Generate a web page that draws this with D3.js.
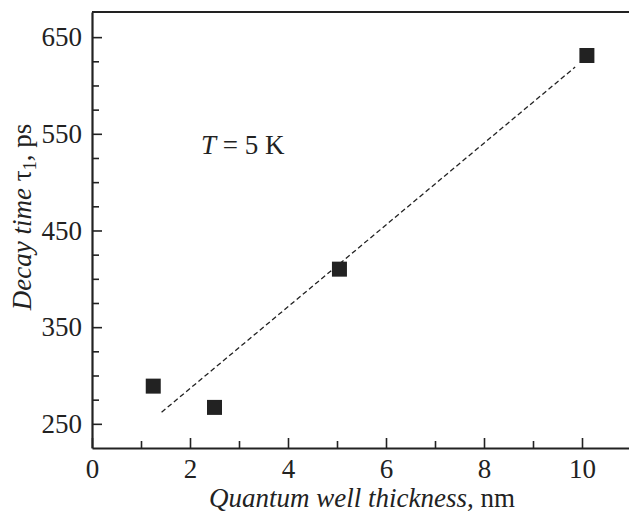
<!doctype html>
<html lang="en">
<head>
<meta charset="utf-8">
<script src="https://d3js.org/d3.v7.min.js"></script>
<style>
  body { margin: 0; background: #fff; }
  svg { font-family: "Liberation Serif", "Times New Roman", serif; }
  .axis path, .axis line { stroke: #222; }
  .axis text { font-size: 27px; fill: #222; font-family: "Liberation Serif", serif; }
</style>
</head>
<body>
<svg width="629" height="516"></svg>
<script>
// data
const thickness = [1.25, 2.5, 5.05, 10.1];     // nm
const decayTime = [289, 267, 410, 631];       // ps
const fitX = [1.42, 9.86];
const fitY = [262, 619];
const xMajor = [0, 2, 4, 6, 8, 10];
const xMinor = [1, 3, 5, 7, 9];
const yMajor = [250, 350, 450, 550, 650];
const yMinor = [275, 300, 325, 375, 400, 425, 475, 500, 525, 575, 600, 625];

const svg = d3.select('svg');
const plotL = 92, plotR = 631, plotT = 12, plotB = 448;

const x = d3.scaleLinear().domain([0, 11]).range([plotL, plotR]);
const y = d3.scaleLinear().domain([225, 676]).range([plotB, plotT]);

// minor ticks
svg.append('g').attr('class', 'axis')
  .attr('transform', `translate(0,${plotB})`)
  .call(d3.axisBottom(x).tickValues(xMinor).tickSize(-7).tickSizeOuter(0).tickFormat(''))
  .call(g => g.select('.domain').remove())
  .selectAll('line').attr('stroke-width', 1.6);
svg.append('g').attr('class', 'axis')
  .attr('transform', `translate(${plotL},0)`)
  .call(d3.axisLeft(y).tickValues(yMinor).tickSize(-7).tickSizeOuter(0).tickFormat(''))
  .call(g => g.select('.domain').remove())
  .selectAll('line').attr('stroke-width', 1.6);

// major ticks + labels
svg.append('g').attr('class', 'axis')
  .attr('transform', `translate(0,${plotB})`)
  .call(d3.axisBottom(x).tickValues(xMajor).tickSize(-10).tickSizeOuter(0).tickPadding(11))
  .call(g => g.select('.domain').attr('stroke-width', 2.2))
  .selectAll('line').attr('stroke-width', 1.6);
svg.append('g').attr('class', 'axis')
  .attr('transform', `translate(${plotL},0)`)
  .call(d3.axisLeft(y).tickValues(yMajor).tickSize(-10).tickSizeOuter(0).tickPadding(10))
  .call(g => g.select('.domain').attr('stroke-width', 2.2))
  .selectAll('line').attr('stroke-width', 1.6);

// top frame line
svg.append('line')
  .attr('x1', plotL).attr('x2', plotR)
  .attr('y1', plotT).attr('y2', plotT)
  .attr('stroke', '#222').attr('stroke-width', 2.2);

// fit line
svg.append('line')
  .attr('x1', x(fitX[0])).attr('y1', y(fitY[0]))
  .attr('x2', x(fitX[1])).attr('y2', y(fitY[1]))
  .attr('stroke', '#222').attr('stroke-width', 1.3)
  .attr('stroke-dasharray', '5,3');

// squares
const s = 15;
svg.selectAll('rect.pt')
  .data(thickness.map((d, i) => [d, decayTime[i]]))
  .enter().append('rect')
  .attr('class', 'pt')
  .attr('x', d => x(d[0]) - s / 2)
  .attr('y', d => y(d[1]) - s / 2)
  .attr('width', s).attr('height', s)
  .attr('fill', '#222');

// annotation
const ann = svg.append('text')
  .attr('x', 201).attr('y', 154)
  .attr('font-size', 27).attr('fill', '#222');
ann.append('tspan').attr('font-style', 'italic').text('T');
ann.append('tspan').text(' = 5 K');

// x label
const xl = svg.append('text')
  .attr('x', 362).attr('y', 507)
  .attr('text-anchor', 'middle')
  .attr('font-size', 27).attr('fill', '#222');
xl.append('tspan').attr('font-style', 'italic').text('Quantum well thickness');
xl.append('tspan').text(', nm');

// y label
const yl = svg.append('text')
  .attr('transform', 'translate(31,217) rotate(-90)')
  .attr('text-anchor', 'middle')
  .attr('font-size', 27).attr('fill', '#222');
yl.append('tspan').attr('font-style', 'italic').text('Decay time ');
yl.append('tspan').text('τ');
yl.append('tspan').attr('font-size', 18).attr('dy', 5).text('1');
yl.append('tspan').attr('dy', -5).text(', ps');
</script>
</body>
</html>
